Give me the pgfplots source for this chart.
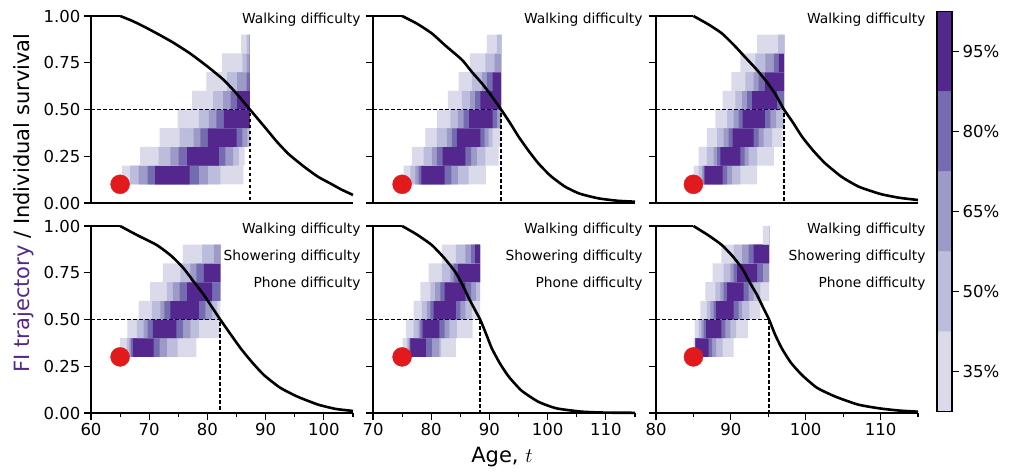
\documentclass[border=0pt]{standalone}
\usepackage{pgfplots}
\pgfplotsset{compat=1.18}
\usepackage{fontspec}
\setmainfont{DejaVu Sans}

\definecolor{c35}{HTML}{DADAEB}
\definecolor{c50}{HTML}{BCBDDC}
\definecolor{c65}{HTML}{9E9AC8}
\definecolor{c80}{HTML}{756BB1}
\definecolor{c95}{HTML}{54278F}
\definecolor{dotred}{HTML}{E31A1C}

% one cell span: colour, y0, y1, left/right
\def\cell#1#2#3#4{\cellaux{#1}{#2}{#3}#4\stopcell}
\def\cellaux#1#2#3#4/#5\stopcell{%
  \addplot[draw=none, fill=#1, mark=none, forget plot]
    coordinates {(#4,#2) (#5,#2) (#5,#3) (#4,#3) (#4,#2)};}
% one row of the FI heatmap: y0, y1, then the 35/50/65/80/95% spans
\newcommand\band[7]{%
  \cell{c35}{#1}{#2}{#3}\cell{c50}{#1}{#2}{#4}\cell{c65}{#1}{#2}{#5}%
  \cell{c80}{#1}{#2}{#6}\cell{c95}{#1}{#2}{#7}}

\tikzset{note/.style={anchor=base east, font=\fontsize{13.8}{16}\selectfont}}
\pgfplotsset{
  panel/.style={
    scale only axis, width=262pt, height=187pt, anchor=south west,
    ymin=0, ymax=1, clip=false,
    axis x line*=bottom, axis y line*=left,
    axis line style={line width=1.1pt, -},
    tick style={black, line width=1.1pt},
    tick align=outside, major tick length=7pt, minor tick length=4pt,
    ytick={0,0.25,0.5,0.75,1}, yticklabels={},
    tick label style={font=\fontsize{16.5}{19}\selectfont},
    /pgf/number format/assume math mode=true,
  },
  leftcol/.style={yticklabels={0.00,0.25,0.50,0.75,1.00}},
  toprow/.style={xtick=\empty},
  surv/.style={black, line width=2.6pt, mark=none, smooth, tension=0.35},
  flat/.style={black, line width=2.6pt, mark=none},
  median/.style={black, line width=1.6pt, dash pattern=on 3.5pt off 2.5pt, mark=none},
  start/.style={only marks, mark=*, mark size=9.5pt, color=dotred},
}

\begin{document}
\begin{tikzpicture}
\path[use as bounding box] (0,0) rectangle (1019pt,471pt);

% ---------- top row ----------
\begin{axis}[panel, leftcol, toprow, at={(91pt,268pt)}, xmin=60, xmax=105]
\band{0.1}{0.2}{65.29/86.15}{66.72/82.24}{68.16/80.06}{69.71/78.51}{71.03/76.95}
\band{0.2}{0.3}{68.45/86.38}{71.61/85.40}{73.62/84.43}{75.06/83.10}{76.49/81.95}
\band{0.3}{0.4}{71.78/87.3}{75.23/87.3}{77.64/86.84}{78.79/85.98}{80.06/85.00}
\band{0.4}{0.5}{74.89/87.3}{78.51/87.3}{80.23/87.3}{81.55/87.3}{82.82/87.3}
\band{0.5}{0.6}{77.36/87.3}{80.98/87.3}{82.70/87.3}{83.97/87.3}{85.11/87.3}
\band{0.6}{0.7}{79.83/87.3}{83.39/87.3}{85.11/87.3}{86.72/87.3}{87.3/87.3}
\band{0.7}{0.8}{82.53/87.3}{85.98/87.3}{86.72/87.3}{87.3/87.3}{87.3/87.3}
\band{0.8}{0.9}{85.80/87.3}{86.72/87.3}{87.3/87.3}{87.3/87.3}{87.3/87.3}
\addplot[median] coordinates {(60,0.5) (87.3,0.5) (87.3,0)};
\addplot[flat] coordinates {(60,1) (65,1)};
\addplot[surv] coordinates {(65,1) (67,0.975) (69,0.945) (71.3,0.907) (74,0.86)
  (77,0.80) (80,0.73) (82.8,0.658) (85,0.585) (87.3,0.5) (90,0.40) (92,0.325) (94,0.26)
  (96.6,0.194) (99,0.14) (101.2,0.103) (103,0.072) (105,0.043)};
\addplot[start] coordinates {(65,0.1)};
\node[note] at ([xshift=11pt,yshift=-7.5pt]rel axis cs:1,1) {Walking difficulty};
\end{axis}

\begin{axis}[panel, toprow, at={(373pt,268pt)}, xmin=70, xmax=115]
\band{0.1}{0.2}{75.26/89.39}{76.40/86.42}{77.26/84.59}{77.83/83.44}{78.29/82.30}
\band{0.2}{0.3}{76.69/91.57}{78.69/89.28}{80.12/87.85}{80.98/86.87}{81.95/85.85}
\band{0.3}{0.4}{78.98/92.0}{80.98/90.54}{82.70/89.85}{83.55/89.16}{84.41/88.42}
\band{0.4}{0.5}{80.98/92.0}{83.27/92.0}{84.59/92.0}{85.56/91.28}{86.53/90.54}
\band{0.5}{0.6}{82.87/92.0}{85.27/92.0}{86.70/92.0}{87.56/92.0}{88.42/92.0}
\band{0.6}{0.7}{84.70/92.0}{86.99/92.0}{88.71/92.0}{89.56/92.0}{90.54/92.0}
\band{0.7}{0.8}{86.70/92.0}{89.28/92.0}{90.88/92.0}{92.0/92.0}{92.0/92.0}
\band{0.8}{0.9}{89.56/92.0}{91.28/92.0}{92.0/92.0}{92.0/92.0}{92.0/92.0}
\addplot[median] coordinates {(70,0.5) (92.0,0.5) (92.0,0)};
\addplot[flat] coordinates {(70,1) (75,1)};
\addplot[surv] coordinates {(75,1) (77.5,0.96) (80.1,0.907) (82.5,0.84) (85.3,0.765)
  (87,0.70) (88.7,0.64) (90.3,0.575) (92,0.5) (93.5,0.43) (95,0.355) (96.7,0.28)
  (98.4,0.212) (100.5,0.145) (103,0.087) (105.5,0.05) (108.7,0.025) (112,0.012) (115,0.007)};
\addplot[start] coordinates {(75,0.1)};
\node[note] at ([xshift=11pt,yshift=-7.5pt]rel axis cs:1,1) {Walking difficulty};
\end{axis}

\begin{axis}[panel, toprow, at={(656pt,268pt)}, xmin=80, xmax=115]
\band{0.1}{0.2}{85.03/93.50}{85.70/91.27}{86.15/90.16}{86.37/89.49}{86.50/88.91}
\band{0.2}{0.3}{85.70/95.73}{86.81/93.50}{87.71/92.38}{88.15/91.85}{88.60/91.27}
\band{0.3}{0.4}{86.81/96.93}{88.15/95.51}{89.04/94.39}{89.71/93.72}{90.25/93.05}
\band{0.4}{0.5}{87.93/97.1}{89.49/97.1}{90.38/96.04}{91.05/95.28}{91.58/94.53}
\band{0.5}{0.6}{88.91/97.1}{90.60/97.1}{91.49/97.1}{92.16/97.1}{92.83/96.17}
\band{0.6}{0.7}{90.07/97.1}{91.94/97.1}{93.05/97.1}{93.72/97.1}{94.53/97.1}
\band{0.7}{0.8}{91.27/97.1}{93.28/97.1}{94.62/97.1}{95.73/97.1}{96.40/97.1}
\band{0.8}{0.9}{93.50/97.1}{96.31/97.1}{97.1/97.1}{97.1/97.1}{97.1/97.1}
\addplot[median] coordinates {(80,0.5) (97.1,0.5) (97.1,0)};
\addplot[flat] coordinates {(80,1) (85,1)};
\addplot[surv] coordinates {(85,1) (87,0.955) (88.8,0.907) (90.4,0.845) (91.9,0.78)
  (93.3,0.72) (94.6,0.658) (95.9,0.585) (97.1,0.5) (98.3,0.43) (99.5,0.355) (101,0.28)
  (102.6,0.212) (104.8,0.14) (107.1,0.087) (110,0.048) (112.5,0.028) (115,0.016)};
\addplot[start] coordinates {(85,0.1)};
\node[note] at ([xshift=11pt,yshift=-7.5pt]rel axis cs:1,1) {Walking difficulty};
\end{axis}

% ---------- bottom row ----------
\begin{axis}[panel, leftcol, at={(91pt,58pt)}, xmin=60, xmax=105,
  xtick={60,70,80,90,100}, minor xtick={65,75,85,95,105}]
\band{0.3}{0.4}{65.00/78.10}{66.15/74.89}{66.61/73.05}{66.84/71.78}{67.18/70.75}
\band{0.4}{0.5}{66.26/82.2}{67.87/78.51}{69.02/77.07}{69.71/75.80}{70.63/74.66}
\band{0.5}{0.6}{68.16/82.2}{70.46/81.67}{71.90/80.80}{72.59/79.66}{73.62/78.51}
\band{0.6}{0.7}{70.17/82.2}{73.05/82.2}{74.08/82.2}{75.23/82.2}{76.49/80.80}
\band{0.7}{0.8}{72.36/82.2}{75.34/82.2}{77.07/82.2}{78.10/82.2}{79.37/82.2}
\band{0.8}{0.9}{75.80/82.2}{79.08/82.2}{81.09/82.2}{82.2/82.2}{82.2/82.2}
\addplot[median] coordinates {(60,0.5) (82.2,0.5) (82.2,0)};
\addplot[flat] coordinates {(60,1) (65,1)};
\addplot[surv] coordinates {(65,1) (68,0.95) (71.3,0.898) (73.8,0.84) (75.9,0.774)
  (77.7,0.70) (79.4,0.631) (80.8,0.565) (82.2,0.5) (84,0.42) (85.7,0.346) (87.7,0.27)
  (89.7,0.203) (92.5,0.135) (95.5,0.087) (99,0.045) (102,0.022) (105,0.011)};
\addplot[start] coordinates {(65,0.3)};
\node[note] at ([xshift=11pt,yshift=-7.5pt]rel axis cs:1,1) {Walking difficulty};
\node[note] at ([xshift=11pt,yshift=-34.5pt]rel axis cs:1,1) {Showering difficulty};
\node[note] at ([xshift=11pt,yshift=-61.5pt]rel axis cs:1,1) {Phone difficulty};
\end{axis}

\begin{axis}[panel, at={(373pt,58pt)}, xmin=70, xmax=115,
  xtick={70,80,90,100,110}, minor xtick={75,85,95,105,115}]
\band{0.3}{0.4}{75.09/84.24}{75.83/81.72}{76.12/81.38}{76.29/80.12}{76.40/79.09}
\band{0.4}{0.5}{75.66/87.10}{76.98/84.41}{77.83/83.10}{78.12/82.30}{78.52/81.38}
\band{0.5}{0.6}{76.98/88.4}{78.41/86.99}{79.27/85.85}{79.84/84.99}{80.41/84.24}
\band{0.6}{0.7}{78.12/88.4}{79.84/88.4}{80.69/87.67}{81.55/86.87}{82.30/85.85}
\band{0.7}{0.8}{79.55/88.4}{81.84/88.4}{83.27/88.4}{83.84/88.4}{84.59/88.4}
\band{0.8}{0.9}{81.84/88.4}{84.24/88.4}{85.85/88.4}{86.87/88.4}{87.56/88.4}
\addplot[median] coordinates {(70,0.5) (88.4,0.5) (88.4,0)};
\addplot[flat] coordinates {(70,1) (75,1)};
\addplot[surv] coordinates {(75,1) (77.5,0.955) (80.1,0.898) (82.2,0.83) (84.1,0.756)
  (85.3,0.69) (86.4,0.618) (87.4,0.558) (88.4,0.5) (89.4,0.425) (90.4,0.346) (91.8,0.265)
  (93.3,0.195) (95.5,0.12) (98.4,0.06) (101.5,0.025) (105.9,0.007) (110,0.002) (115,0.001)};
\addplot[start] coordinates {(75,0.3)};
\node[note] at ([xshift=11pt,yshift=-7.5pt]rel axis cs:1,1) {Walking difficulty};
\node[note] at ([xshift=11pt,yshift=-34.5pt]rel axis cs:1,1) {Showering difficulty};
\node[note] at ([xshift=11pt,yshift=-61.5pt]rel axis cs:1,1) {Phone difficulty};
\end{axis}

\begin{axis}[panel, at={(656pt,58pt)}, xmin=80, xmax=115,
  xtick={80,90,100,110}, minor xtick={85,95,105,115}]
\band{0.3}{0.4}{85.03/90.38}{85.25/88.91}{85.25/88.02}{85.25/87.48}{85.25/87.04}
\band{0.4}{0.5}{85.16/92.30}{85.70/90.69}{86.05/89.93}{86.37/89.26}{86.68/88.73}
\band{0.5}{0.6}{85.92/93.94}{86.81/92.47}{87.26/91.49}{87.71/91.05}{88.02/90.38}
\band{0.6}{0.7}{86.59/95.1}{87.93/93.94}{88.60/93.05}{89.04/92.38}{89.49/91.72}
\band{0.7}{0.8}{87.57/95.1}{89.04/95.1}{89.93/95.1}{90.38/94.26}{90.82/93.50}
\band{0.8}{0.9}{88.73/95.1}{90.38/95.1}{91.49/95.1}{92.38/95.1}{93.05/95.1}
\band{0.9}{1.0}{94.26/95.1}{95.1/95.1}{95.1/95.1}{95.1/95.1}{95.1/95.1}
\addplot[median] coordinates {(80,0.5) (95.1,0.5) (95.1,0)};
\addplot[flat] coordinates {(80,1) (85,1)};
\addplot[surv] coordinates {(85,1) (87,0.95) (88.8,0.898) (90.2,0.84) (91.5,0.774)
  (92.5,0.70) (93.5,0.631) (94.3,0.565) (95.1,0.5) (95.9,0.42) (96.8,0.346) (98,0.27)
  (99.5,0.203) (101.5,0.135) (104,0.087) (107,0.045) (109.8,0.025) (112.5,0.013) (115,0.007)};
\addplot[start] coordinates {(85,0.3)};
\node[note] at ([xshift=11pt,yshift=-7.5pt]rel axis cs:1,1) {Walking difficulty};
\node[note] at ([xshift=11pt,yshift=-34.5pt]rel axis cs:1,1) {Showering difficulty};
\node[note] at ([xshift=11pt,yshift=-61.5pt]rel axis cs:1,1) {Phone difficulty};
\end{axis}

% ---------- colour bar ----------
\begin{axis}[scale only axis, width=15pt, height=400pt, at={(937pt,59.3pt)},
  anchor=south west, xmin=0, xmax=1, ymin=0, ymax=5, axis on top,
  xtick=\empty, ytick={0.5,1.5,2.5,3.5,4.5},
  yticklabels={35\%,50\%,65\%,80\%,95\%},
  ytick pos=right, yticklabel pos=right, tick align=outside, major tick length=7pt,
  axis line style={line width=1.1pt}, tick style={black, line width=1.1pt},
  tick label style={font=\fontsize{16.5}{19}\selectfont}]
\addplot[draw=none, fill=c35, mark=none] coordinates {(0,0) (1,0) (1,1) (0,1) (0,0)};
\addplot[draw=none, fill=c50, mark=none] coordinates {(0,1) (1,1) (1,2) (0,2) (0,1)};
\addplot[draw=none, fill=c65, mark=none] coordinates {(0,2) (1,2) (1,3) (0,3) (0,2)};
\addplot[draw=none, fill=c80, mark=none] coordinates {(0,3) (1,3) (1,4) (0,4) (0,3)};
\addplot[draw=none, fill=c95, mark=none] coordinates {(0,4) (1,4) (1,5) (0,5) (0,4)};
\end{axis}

\node[rotate=90, font=\fontsize{21}{25}\selectfont] at (24pt,268pt)
  {\textcolor{c95}{FI trajectory} / Individual survival};
\node[font=\fontsize{21}{25}\selectfont] at (502pt,14pt) {Age, $t$};
\end{tikzpicture}
\end{document}
